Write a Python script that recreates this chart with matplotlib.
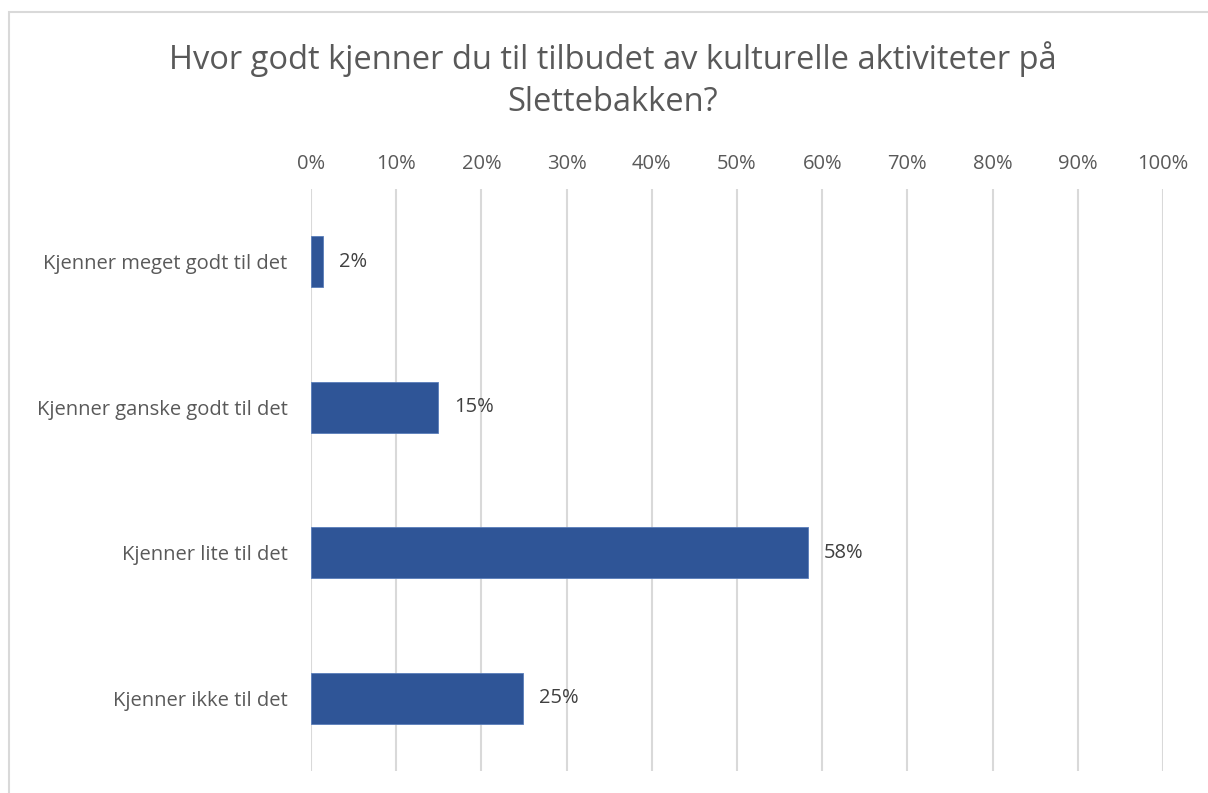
import matplotlib.pyplot as plt
import numpy as np
from matplotlib.patches import Rectangle

# Chart data
title = 'Hvor godt kjenner du til tilbudet av kulturelle aktiviteter på\nSlettebakken?'
categories = [
    'Kjenner meget godt til det',
    'Kjenner ganske godt til det',
    'Kjenner lite til det',
    'Kjenner ikke til det',
]
values = [1.4, 14.9, 58.3, 24.9]
value_labels = ['2%', '15%', '58%', '25%']
tick_values = list(range(0, 101, 10))
tick_labels = [f'{t}%' for t in tick_values]

text_color = '#595959'
bar_color = '#2F5597'
grid_color = '#D9D9D9'

plt.rcParams['font.family'] = ['Open Sans', 'DejaVu Sans']

fig = plt.figure(figsize=(12.08, 7.93), dpi=100)
ax = fig.add_axes([311 / 1208, 1 - 771 / 793, 852 / 1208, 582 / 793])

# outer chart border
fig.patches.append(Rectangle(
    (9 / 1208, -0.1), 1.2, 1 - 12 / 793 + 0.1,
    transform=fig.transFigure, fill=False, edgecolor=grid_color, lw=1.5
))

y = np.arange(len(categories))
ax.barh(y, values, height=0.35, color=bar_color, edgecolor='#5A7DBA',
        linewidth=0.6, zorder=3)

for yi, v, lab in zip(y, values, value_labels):
    ax.text(v + 1.9, yi, lab, va='center', ha='left', fontsize=14.5,
            color='#404040')

ax.set_xlim(0, 100)
ax.set_ylim(len(categories) - 0.5, -0.5)
ax.set_xticks(tick_values)
ax.set_xticklabels(tick_labels)
ax.xaxis.tick_top()
ax.set_yticks(y)
ax.set_yticklabels(categories)
ax.tick_params(axis='x', length=0, pad=10.5, labelsize=14.5,
               labelcolor=text_color)
ax.tick_params(axis='y', length=0, pad=17, labelsize=14.5,
               labelcolor=text_color)

ax.grid(axis='x', color=grid_color, lw=1.5, zorder=0)
for s in ax.spines.values():
    s.set_visible(False)

fig.text(613 / 1208, 1 - 80 / 793, title, ha='center', va='center',
         fontsize=23.5, color=text_color, linespacing=1.35)

fig.savefig('out.png', dpi=100)
